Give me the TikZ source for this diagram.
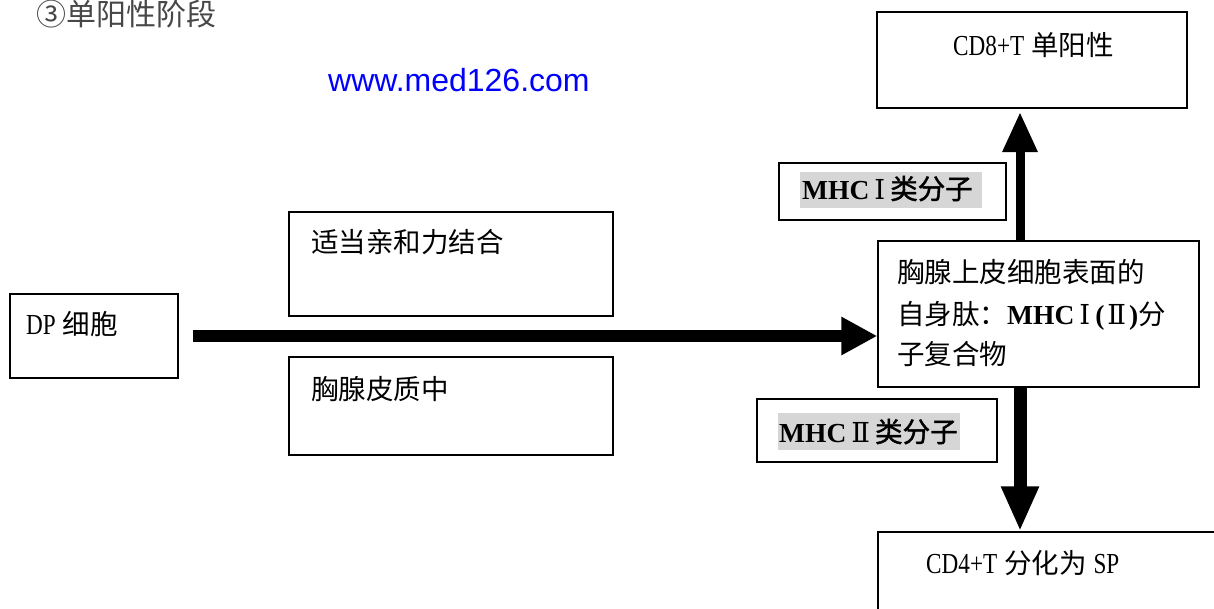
\documentclass[tikz,border=0pt]{standalone}
\usepackage{fontspec}
\setmainfont{Liberation Serif}
\newfontfamily\cjk{Noto Sans CJK SC}
\newfontfamily\cjkb{Noto Sans CJK SC}[FakeBold=1.5]
\newfontfamily\latn{Liberation Serif}[FakeStretch=0.8]
\newfontfamily\numfont{DejaVu Serif}
\newfontfamily\wwwfont{Liberation Sans}
\newcommand{\rnum}[1]{\hspace{5pt}{\numfont #1}\hspace{5pt}}
\usetikzlibrary{arrows.meta}
\tikzset{
  box/.style={draw, line width=1.4pt, inner sep=0pt},
  txt/.style={anchor=base west, inner sep=0pt, font=\fontsize{27.5}{33}\selectfont},
  hl/.style={fill=black!16, draw=none},
  flowarrow/.style={line width=#1, draw=black}
}
\begin{document}
\begin{tikzpicture}[x=1pt,y=-1pt]
\useasboundingbox (0,0) rectangle (1214,608);
\clip (0,0) rectangle (1214,608);

% title and url
\node[txt, font=\fontsize{30}{36}\selectfont, text=black!72] (title) at (36,25) {\cjk ③单阳性阶段};
\node[txt, font=\fontsize{32}{38}\selectfont, text={rgb,255:red,0;green,0;blue,255}] (www) at (328,91) {\wwwfont www.med126.com};

% boxes
\node[box, minimum width=168pt, minimum height=84pt] (dp) at (94,336) {};
\node[box, minimum width=324pt, minimum height=104pt] (aff) at (451,264) {};
\node[box, minimum width=324pt, minimum height=98pt] (cortex) at (451,406) {};
\node[box, minimum width=321pt, minimum height=146pt] (epi) at (1038.5,314) {};
\node[box, minimum width=310pt, minimum height=96pt] (cd8) at (1032,60) {};
\node[box, minimum width=227pt, minimum height=57pt] (mhc1) at (892.5,191.5) {};
\node[box, minimum width=240pt, minimum height=63pt] (mhc2) at (877,430.5) {};
\node[box, minimum width=362pt, minimum height=108pt] (cd4) at (1059,586) {};

% highlights
\fill[hl] (800,172) rectangle (982,208);
\fill[hl] (778,413) rectangle (960,450);

% texts
\node[txt] (tdp) at (26,334) {{\latn\fontsize{29}{33}\selectfont DP} {\cjk 细胞}};
\node[txt] (taff) at (311,252) {\cjk 适当亲和力结合};
\node[txt] (tcortex) at (311,399) {\cjk 胸腺皮质中};
\node[txt] (tcd8) at (953,55) {{\latn\fontsize{29}{33}\selectfont CD8+T} {\cjk 单阳性}};
\node[txt] (tepi1) at (897,282) {\cjk 胸腺上皮细胞表面的};
\node[txt] (tepi2) at (897,324) {{\cjk 自身肽：}{\bfseries MHC}\rnum{Ⅰ}{\bfseries (}\hspace{3pt}{\numfont Ⅱ}\hspace{3pt}{\bfseries )}{\cjk 分}};
\node[txt] (tepi3) at (897,364) {\cjk 子复合物};
\node[txt] (tmhc1) at (802,199) {{\bfseries MHC}\rnum{Ⅰ}{\cjkb 类分子}};
\node[txt] (tmhc2) at (779,442) {{\bfseries MHC}\rnum{Ⅱ}{\cjkb 类分子}};
\node[txt] (tcd4) at (926,573) {{\latn\fontsize{29}{33}\selectfont CD4+T} {\cjk 分化为} {\latn\fontsize{29}{33}\selectfont SP}};

% arrows
\coordinate (vx) at (1020,0);
\coordinate (uptip) at (1020,112);
\draw[flowarrow=12pt, -{Triangle[length=36pt,width=36pt]}] ([xshift=14pt]dp.east) -- (dp.east -| epi.west);
\draw[flowarrow=9pt, -{Triangle[length=40pt,width=33pt]}] (epi.north -| vx) -- (uptip);
\draw[flowarrow=13pt, -{Triangle[length=45pt,width=35pt]}] (epi.south -| vx) -- (cd4.north -| vx);
\end{tikzpicture}
\end{document}
